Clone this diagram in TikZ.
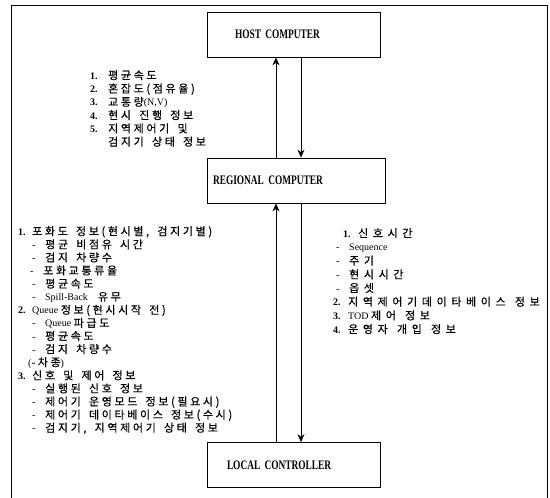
\documentclass[tikz,border=0pt]{standalone}
\usepackage{fontspec}
\setmainfont{Liberation Serif}
\newfontfamily\kr{Noto Sans CJK KR}[Scale=1.1, LetterSpace=24, WordSpace=1.6, FakeBold=0.6]
\newfontfamily\krw{Noto Sans CJK KR}[Scale=1.1, LetterSpace=42, WordSpace=1.3, FakeBold=0.6]
\newfontfamily\ttl{Liberation Serif}[FakeStretch=0.72]
\usepackage{tikz}
\usetikzlibrary{arrows.meta, positioning}

\newcommand{\nr}[2][14pt]{\makebox[#1][l]{\bfseries #2}}
\newcommand{\sub}[1][14pt]{\hspace*{#1}\makebox[13pt][l]{-}}

\begin{document}
\begin{tikzpicture}[x=1pt, y=-1pt, >={Stealth[length=8pt, width=7pt]},
    box/.style={draw, line width=0.8pt, minimum height=45pt, inner ysep=0pt, align=left,
        font=\ttl\bfseries\fontsize{13}{14}\selectfont},
    info/.style={anchor=north west, inner sep=0pt, align=left,
        font=\fontsize{10}{13.1}\selectfont}]
    \useasboundingbox (0,0) rectangle (550,498);

    % outer frame, open at the bottom
    \draw[line width=0.8pt] (11,498) -- (11,5) -- (547,5) -- (547,498);

    % computers and controller
    \node[box, text width=117pt, inner xsep=28pt] (host) at (293.5,34.5) {HOST COMPUTER};
    \node[box, text width=166pt, inner xsep=6pt] (regional) at (296,180.5) {REGIONAL COMPUTER};
    \node[box, text width=133pt, inner xsep=20pt] (local) at (293.5,465) {LOCAL CONTROLLER};

    % data flow
    \draw[->, line width=0.8pt] (regional.north -| 276,0) -- (host.south -| 276,0);
    \draw[->, line width=0.8pt] (host.south -| 301,0) -- (regional.north -| 301,0);
    \draw[->, line width=0.8pt] (local.north -| 276,0) -- (regional.south -| 276,0);
    \draw[->, line width=0.8pt] (regional.south -| 301,0) -- (local.north -| 301,0);

    % host <- regional
    \node[info, font=\fontsize{10}{13.3}\selectfont] (uplist) at (90,70) {%
        \nr[18pt]{1.}{\kr 평균속도}\\
        \nr[18pt]{2.}{\kr 혼잡도(점유율)}\\
        \nr[18pt]{3.}{\kr 교통량}(N,V)\\
        \nr[18pt]{4.}{\kr 현시 진행 정보}\\
        \nr[18pt]{5.}{\kr 지역제어기 및}\\
        \hspace*{18pt}{\kr 검지기 상태 정보}};

    % regional <- local
    \node[info] (locallist) at (18,226) {%
        \nr{1.}{\kr 포화도 정보(현시별, 검지기별)}\\
        \sub{\kr 평균 비점유 시간}\\
        \sub{\kr 검지 차량수}\\
        \sub[12pt]{\kr 포화교통류율}\\
        \sub{\kr 평균속도}\\
        \sub Spill-Back\hspace{10pt}{\kr 유무}\\
        \nr{2.}Queue {\kr 정보(현시시작 전)}\\
        \sub Queue {\kr 파급도}\\
        \sub{\kr 평균속도}\\
        \sub{\kr 검지 차량수}\\
        \hspace*{10pt}({\kr -} {\kr 차종})\\
        \nr{3.}{\kr 신호 및 제어 정보}\\
        \sub{\kr 실행된 신호 정보}\\
        \sub{\kr 제어기 운영모드 정보(필요시)}\\
        \sub{\kr 제어기 데이타베이스 정보(수시)}\\
        \sub{\kr 검지기, 지역제어기 상태 정보}};

    % regional -> local
    \node[info, font=\fontsize{10}{13.7}\selectfont] (downlist) at (333,228) {%
        \hspace*{10pt}\nr[15pt]{1.}{\krw 신호시간}\\
        \sub[3pt]Sequence\\
        \sub[3pt]{\krw 주기}\\
        \sub[3pt]{\krw 현시시간}\\
        \sub[3pt]{\krw 옵셋}\\
        \nr[15pt]{2.}{\krw 지역제어기데이타베이스 정보}\\
        \nr[15pt]{3.}TOD {\krw 제어 정보}\\
        \nr[15pt]{4.}{\krw 운영자 개입 정보}};
\end{tikzpicture}
\end{document}
